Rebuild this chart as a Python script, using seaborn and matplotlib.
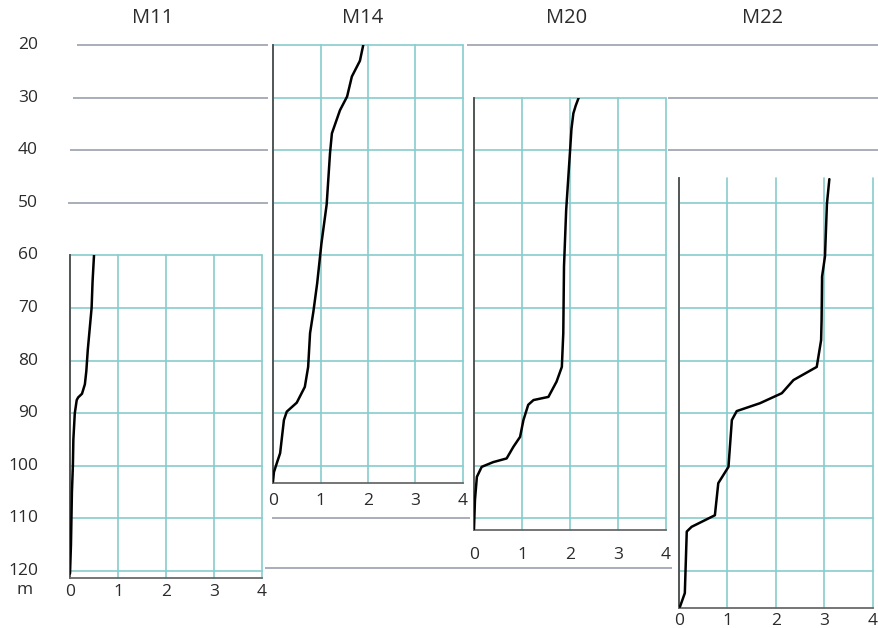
import matplotlib
matplotlib.use("Agg")
import matplotlib.pyplot as plt
import seaborn as sns
import pandas as pd

sns.set_theme(style="white")
plt.rcParams['font.family'] = ['Open Sans', 'DejaVu Sans']

# ---------------- data ----------------
wells = ["M11", "M14", "M20", "M22"]
depth_labels = [20, 30, 40, 50, 60, 70, 80, 90, 100, 110, 120]
x_ticks = [0, 1, 2, 3, 4]

m11_depth = [60, 65, 70, 75, 78, 82, 84.5, 86.3, 87.0, 87.5, 90, 95, 100, 105, 110, 115, 120.5]
m11_value = [0.50, 0.47, 0.45, 0.40, 0.37, 0.34, 0.31, 0.25, 0.17, 0.14, 0.10, 0.07, 0.06, 0.04, 0.03, 0.02, 0.0]

m14_depth = [20, 23, 26, 29.8, 32.4, 36.8, 40.6, 50.3, 57.7, 65.3, 70.7, 74.8, 81.2, 85, 88, 89.7, 91.3, 97.6, 99.5, 101.2, 103]
m14_value = [1.90, 1.83, 1.66, 1.56, 1.41, 1.24, 1.20, 1.13, 1.02, 0.93, 0.85, 0.78, 0.74, 0.67, 0.50, 0.29, 0.23, 0.15, 0.08, 0.02, 0.0]

m20_depth = [29.8, 31.5, 33, 36, 40.3, 51.4, 62.1, 74.8, 81.2, 84, 86.9, 87.5, 88.4, 91.3, 94.5, 96.4, 98.6, 99.3, 100.2, 102.1, 106.5, 112]
m20_value = [2.19, 2.12, 2.07, 2.03, 2.00, 1.92, 1.875, 1.86, 1.83, 1.72, 1.55, 1.24, 1.13, 1.03, 0.96, 0.82, 0.68, 0.40, 0.16, 0.06, 0.02, 0.0]

m22_depth = [45.5, 50.2, 60.2, 64, 72.3, 76.1, 81.2, 83.7, 86.2, 88.1, 89.6, 91.3, 100.2, 103.3, 109.4, 111.6, 112.5, 124.2, 126.8]
m22_value = [3.10, 3.05, 3.01, 2.95, 2.94, 2.93, 2.84, 2.36, 2.12, 1.67, 1.19, 1.09, 1.02, 0.81, 0.74, 0.26, 0.16, 0.12, 0.02]

series = {
    "M11": (m11_depth, m11_value),
    "M14": (m14_depth, m14_value),
    "M20": (m20_depth, m20_value),
    "M22": (m22_depth, m22_value),
}

# ---------------- layout ----------------
W, H = 879, 628
Y0, PX_PER_M = 45.0, 5.26           # pixel row of 20 m, pixels per metre

def ypx(d):
    return Y0 + (d - 20) * PX_PER_M

# panel: (x_left_px, x_right_px, top_depth, bottom_depth, label_pad, title_x)
panels = {
    "M11": (70, 262, 60.0, 121.3, 4.5, 153),
    "M14": (273, 463, 20.0, 103.3, 7.0, 363),
    "M20": (474, 666, 30.0, 112.2, 12.5, 567),
    "M22": (679, 873, 45.3, 127.0, 3.5, 763),
}

TEAL = "#86cccc"
GREY = "#a3a7b3"
SPINE = "#4d4d4d"
TEXT = "#2b2b2b"

fig = plt.figure(figsize=(W / 100, H / 100), dpi=100)

# background axes in depth units for labels and connector lines
bg = fig.add_axes([0, 0, 1, 1])
bg.set_xlim(0, 1)
bg.set_ylim(20 + (H - Y0) / PX_PER_M, 20 - Y0 / PX_PER_M)
bg.axis("off")

for d in depth_labels:
    bg.text(38 / W, d, str(d), ha="right", va="center", fontsize=12.5, color=TEXT)
bg.text(25 / W, 120 + 19 / PX_PER_M, "m", ha="center", va="center", fontsize=12.5, color=TEXT)

grey_lines = [
    (20, 77, 268), (30, 73, 268), (40, 70, 268), (50, 68, 268),
    (20, 467, 879), (30, 668, 879), (40, 668, 879),
    (110, 272, 470), (119.5, 265, 672),
]
for d, x0, x1 in grey_lines:
    bg.hlines(d, x0 / W, x1 / W, color=GREY, lw=1.3)

for name in wells:
    x0, x1, dtop, dbot, pad, tx = panels[name]
    left = x0 / W
    width = (x1 - x0) / W
    bottom = 1 - ypx(dbot) / H
    height = (ypx(dbot) - ypx(dtop)) / H
    ax = fig.add_axes([left, bottom, width, height])
    ax.set_facecolor("none")
    depth, val = series[name]
    df = pd.DataFrame({"value": val, "depth": depth})
    sns.lineplot(data=df, x="value", y="depth", orient="y", ax=ax,
                 color="black", lw=1.8, zorder=5)
    ax.set_xlim(0, 4)
    ax.set_ylim(dbot, dtop)
    ax.set_xticks(x_ticks)
    ax.set_xticklabels([str(t) for t in x_ticks])
    yt = [d for d in range(10, 140, 10) if dtop - 0.01 <= d <= dbot]
    ax.set_yticks(yt)
    ax.set_yticklabels([])
    ax.grid(True, color=TEAL, lw=1.2, clip_on=False)
    ax.tick_params(axis="both", length=0)
    ax.tick_params(axis="x", pad=pad, labelsize=12.5, colors=TEXT)
    ax.set_xlabel("")
    ax.set_ylabel("")
    for s in ["top", "right"]:
        ax.spines[s].set_visible(False)
    ax.spines["left"].set_color(SPINE)
    ax.spines["bottom"].set_color("#6a6a6a")
    ax.spines["left"].set_linewidth(1.3)
    ax.spines["bottom"].set_linewidth(1.3)
    fig.text(tx / W, 1 - 18 / H, name, ha="center", va="center", fontsize=14.5, color=TEXT)

fig.savefig("out.png", dpi=100)
